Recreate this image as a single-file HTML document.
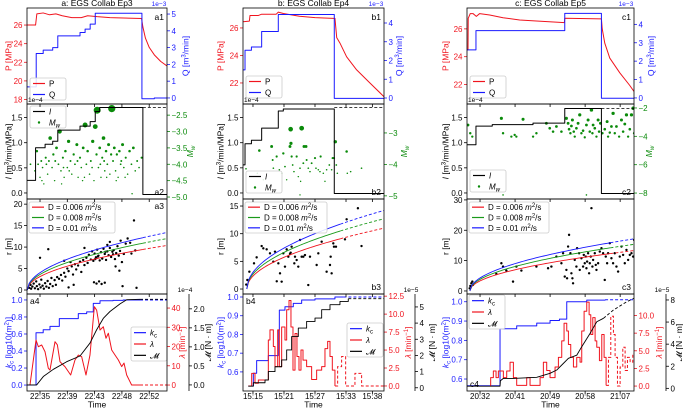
<!DOCTYPE html>
<html><head><meta charset="utf-8"><style>
html,body{margin:0;padding:0;background:#fff;}
svg{display:block;font-family:"Liberation Sans",sans-serif;}
</style></head><body>
<svg id="chart" width="683" height="408" viewBox="0 0 683 408" xmlns="http://www.w3.org/2000/svg"></svg>
<script>
// ===== Column a (minutes after 22:00) =====
const a_xTicks=[35,39.3,43.6,47.9,52.2];
const a_xLabels=['22:35','22:39','22:43','22:48','22:52'];
const a1_P=[[32.95,26],[34.3,26],[34.5,27.2],[35.5,27.3],[36.5,27.1],[37.5,27.2],[38.5,27.0],[40,26.8],[41.5,26.8],[42.5,27.0],[44,26.9],[46,26.8],[51,26.7],[51.2,25.8],[51.6,24.6],[52.2,23.6],[53,22.8],[54,22.1],[55,21.6]];
const a1_Q=[[32.95,0.66],[34.4,2.65],[35.5,2.85],[37.0,3.0],[37.8,3.7],[41.3,3.9],[42.1,4.1],[42.9,4.4],[43.7,5.05],[51.05,-0.05],[53,0.0],[55,0.0]];
const a2_I=[[32.95,0.25],[34.3,0.9],[35.8,0.97],[37.0,1.03],[37.8,1.25],[41.3,1.33],[42.9,1.42],[43.7,1.62],[44.4,1.7],[51.2,-0.03],[55,-0.02]];
const a2_Idash=[[51.2,1.7],[55,1.7]];
const a2_Mw=[[34.2,-4.2],[34.5,-3.6],[34.7,-4.0],[35.0,-4.4],[35.2,-3.9],[35.4,-4.1],[35.6,-4.6],[35.9,-3.8],[36.2,-4.3],[36.4,-3.9],[36.6,-3.2],[36.9,-4.1],[37.1,-3.7],[37.3,-4.5],[37.6,-3.5],[37.9,-4.0],[38.1,-3.0],[38.3,-4.2],[38.6,-3.8],[38.8,-4.4],[39.0,-3.6],[39.3,-4.1],[39.5,-3.3],[39.8,-3.9],[40.0,-4.3],[40.3,-3.7],[40.5,-4.0],[40.8,-3.4],[41.0,-4.4],[41.3,-3.8],[41.5,-4.1],[41.8,-3.5],[42.1,-2.8],[42.3,-4.0],[42.5,-3.6],[42.8,-4.3],[43.0,-3.9],[43.3,-3.3],[43.5,-4.5],[43.7,-2.85],[43.9,-3.7],[44.0,-2.35],[44.2,-4.1],[44.4,-3.5],[44.6,-4.4],[44.8,-3.8],[45.0,-3.2],[45.2,-4.2],[45.4,-3.6],[45.6,-4.0],[45.8,-3.4],[46.0,-4.3],[46.3,-2.3],[46.5,-3.9],[46.7,-3.5],[46.9,-4.2],[47.1,-3.7],[47.3,-4.4],[47.5,-3.6],[47.7,-4.0],[48.0,-3.4],[48.2,-4.1],[48.5,-3.8],[48.8,-4.3],[49.1,-3.6],[49.4,-4.0],[49.7,-3.5],[50.0,-4.2],[50.3,-3.9],[50.6,-4.1],[51.0,-3.8],[49.5,-4.9],[35.3,-4.5],[36.0,-4.0],[37.4,-3.9],[38.4,-4.6],[39.6,-4.2],[40.9,-3.9],[42.0,-4.4],[43.2,-4.1],[44.5,-4.0],[45.5,-4.4],[46.2,-3.7],[47.0,-4.5],[48.4,-4.4],[33.5,-4.0],[38.7,-4.1],[41.7,-4.5],[45.1,-3.9],[47.8,-3.9]];
const a3_r=[[33.3,0.5],[33.5,1.2],[33.6,0.3],[33.8,0.8],[34.0,1.5],[34.2,0.4],[34.4,2.0],[34.5,0.9],[34.7,0.2],[34.9,1.3],[35.1,0.6],[35.2,2.4],[35.4,1.0],[35.6,0.3],[35.8,1.6],[36.0,0.8],[36.2,2.1],[36.4,0.5],[36.6,1.4],[36.8,2.8],[37.0,0.9],[37.3,2.3],[37.5,1.2],[37.7,3.0],[38.0,2.6],[35.0,7.5],[36.3,9.5],[38.3,3.5],[38.5,2.2],[38.8,4.0],[39.0,3.1],[39.3,5.0],[39.5,4.4],[39.8,6.5],[40.0,5.5],[40.2,3.6],[40.5,6.0],[40.7,4.8],[41.0,5.7],[41.3,6.6],[41.5,4.2],[38.8,6.8],[39.5,0.6],[40.3,1.2],[41.8,7.0],[42.0,5.8],[42.3,7.5],[42.5,6.3],[42.7,8.2],[43.0,7.1],[43.2,9.0],[43.4,6.8],[43.6,8.5],[43.8,7.6],[44.0,9.4],[44.2,8.0],[44.4,6.9],[44.6,8.8],[44.8,7.3],[45.0,9.6],[45.2,8.4],[45.4,7.0],[45.6,9.0],[45.8,8.1],[46.0,9.8],[46.2,7.7],[46.4,8.9],[46.6,9.3],[46.8,7.2],[47.0,8.6],[47.2,10.2],[47.4,8.0],[47.6,9.1],[47.9,6.5],[48.2,8.4],[48.5,10.8],[43.5,1.8],[43.9,1.5],[44.3,2.0],[44.7,1.4],[45.2,1.7],[42.0,9.8],[45.6,10.5],[46.9,5.5],[47.5,4.5],[48.8,12.0],[49.2,11.0],[49.8,16.2],[50.2,0.5],[48.0,0.9],[49.4,8.5],[50.0,9.2],[47.7,11.5],[46.0,11.2],[44.1,7.8],[45.3,8.9],[46.5,8.3],[43.7,7.2]];
const a4_kc=[[32.95,0],[34.37,0.615],[35.5,0.65],[36.57,0.69],[38.04,0.78],[41.03,0.84],[42.35,0.86],[43.39,0.96],[44.45,0.99],[46.5,0.995],[48.1,1.0],[55,1.0]];
const a4_lam=[[33.42,0],[34.37,23.4],[34.74,19.9],[35.26,20.8],[35.79,17.3],[36.31,8.7],[36.57,7.8],[37.36,22.5],[37.73,20.9],[38.15,12.1],[38.94,9.5],[39.83,5.2],[40.51,13],[41.04,15.6],[41.56,14.7],[42.24,5.2],[42.87,15.6],[43.56,40.7],[43.92,38.9],[44.45,28.6],[44.97,30.3],[45.39,24.3],[45.76,26.9],[46.29,18.2],[46.81,15.6],[47.34,13.0],[47.86,9.6],[48.23,11.4],[48.65,5.2],[49.43,0],[55,0]];
const a4_M=[[32.95,0],[34.47,0],[35.52,0.22],[37.1,0.41],[39.2,0.61],[41.3,0.76],[42.87,1.1],[43.92,1.45],[44.97,1.75],[46.02,1.93],[47.6,2.13],[48.65,2.24],[50.75,2.25],[55,2.25]];
// ===== Column b (minutes after 15:00) =====
const b_xTicks=[15,21,27,33,38.1];
const b_xLabels=['15:15','15:21','15:27','15:33','15:38'];
const b1_P=[[13.07,26.45],[14.3,26.5],[14.42,26.9],[16.0,26.9],[16.68,27.0],[19.5,27.0],[19.9,27.15],[20.87,27.05],[24,26.85],[27,26.75],[30.54,26.7],[30.86,26.7],[31.2,25.3],[31.83,24.9],[33.12,23.9],[35.06,22.95],[37.63,22.0],[40.35,21.0]];
const b1_Q=[[13.07,1.5],[13.46,2.55],[14.7,2.72],[16.68,3.55],[19.9,4.45],[30.73,-0.02],[40.35,0.0]];
const b2_I=[[13.07,0.56],[13.46,0.98],[14.7,1.05],[16.68,1.29],[19.9,1.63],[20.87,1.67],[30.73,-0.01],[40.35,0.0]];
const b2_Idash=[[30.73,1.7],[40.35,1.7]];
const b2_Mw=[[13.65,-4.14],[15.84,-4.28],[16.23,-3.56],[17.0,-4.49],[18.61,-3.43],[18.81,-3.86],[18.94,-4.12],[19.58,-3.75],[20.1,-4.17],[20.55,-4.28],[20.87,-3.65],[21.19,-4.07],[21.52,-4.49],[22.16,-3.43],[22.29,-2.88],[22.35,-3.33],[22.48,-3.75],[22.68,-4.02],[22.93,-4.23],[23.45,-3.75],[23.77,-4.39],[24.1,-4.12],[24.22,-4.54],[24.42,-2.85],[24.74,-3.96],[24.87,-3.43],[25.26,-3.43],[25.38,-3.86],[25.7,-4.12],[26.03,-4.23],[26.35,-3.96],[27.0,-3.8],[27.19,-4.12],[27.64,-4.17],[27.96,-4.23],[28.09,-3.75],[28.61,-4.28],[28.93,-4.54],[29.25,-4.17],[29.77,-4.02],[30.22,-4.17],[30.41,-3.8],[30.67,-3.8],[30.93,-3.28],[31.12,-4.02],[31.32,-4.28],[33.12,-3.59],[33.25,-4.28],[33.9,-4.23],[36.0,-4.12],[24.1,-4.97]];
const b3_r=[[13.91,1.63],[14.3,3.13],[15.2,4.64],[15.71,5.72],[16.68,7.77],[17.0,7.35],[17.65,7.17],[18.29,6.45],[18.94,4.94],[19.26,6.75],[19.91,4.64],[20.23,2.83],[20.55,1.33],[20.87,6.45],[21.19,4.04],[21.52,7.17],[21.84,5.84],[22.16,6.33],[22.29,6.57],[22.48,7.65],[23.0,4.64],[23.13,5.84],[23.45,5.24],[23.77,4.04],[24.1,8.86],[24.42,5.84],[24.74,5.84],[25.06,6.14],[25.7,0.72],[26.03,5.84],[27.32,4.34],[27.64,6.45],[28.29,8.55],[29.25,3.13],[29.9,4.34],[30.03,5.84],[30.22,2.83],[30.54,8.25],[30.67,7.65],[31.06,7.65],[32.8,8.98],[33.12,12.6],[35.3,14.6],[36.0,7.77],[19.6,1.4],[13.7,0.8]];
const b4_kc=[[14.1,0.525],[15.07,0.593],[15.71,0.66],[17.97,0.687],[19.9,0.824],[20.1,0.93],[21.19,0.948],[22.8,0.966],[24.42,0.984],[27.0,0.99],[30.86,1.0],[40.35,1.0]];
const b4_lam=[[14.1,0],[14.75,1.76],[15.39,0.37],[16.04,0.83],[17.33,0.83],[17.97,6.4],[18.29,7.8],[18.94,5.5],[19.26,2.7],[19.78,7.8],[20.1,2.7],[20.55,8.2],[21.19,6.4],[21.52,10.6],[21.97,11.9],[22.35,8.2],[22.74,2.2],[23.13,7.3],[23.51,4.1],[23.9,2.2],[24.29,5.0],[24.68,3.6],[25.38,2.7],[26.35,0.9],[27.32,2.2],[28.29,2.7],[28.93,5.2],[29.45,6.2],[29.9,4.1],[30.35,2.2],[30.86,0],[31.38,2.7],[32.15,4.1],[32.93,0],[34.73,1.76],[36.02,0],[40.35,0]];
const b4_M=[[14.1,0.1],[15.07,0.31],[17.33,0.48],[17.97,1.0],[19.26,1.3],[20.55,1.72],[21.52,2.34],[22.48,3.17],[23.77,3.69],[25.38,4.1],[27.0,4.31],[28.29,4.83],[29.9,5.14],[31.83,5.34],[33.44,5.51],[40.35,5.51]];
// ===== Column c (minutes after 20:00) =====
const c_xTicks=[32,40.6,49.2,57.8,66.4];
const c_xLabels=['20:32','20:41','20:49','20:58','21:07'];
const c1_P=[[28.8,24.5],[29.05,24.5],[29.1,26.76],[29.6,27.1],[30.27,27.1],[31.09,26.9],[31.91,27.1],[34.37,27.0],[37.65,26.8],[41.74,26.64],[45.83,26.57],[52.7,26.45],[52.8,26.76],[61.8,26.72],[62.0,26.0],[62.62,24.98],[63.85,23.9],[66.31,22.84],[68.77,21.93],[69.8,21.5]];
const c1_Q=[[28.8,2.61],[31.0,3.66],[52.8,4.6],[61.8,-0.02],[69.8,0.0]];
const c2_I=[[28.8,0.96],[31.0,1.33],[35,1.36],[45,1.39],[52.8,1.68],[61.8,-0.01],[69.8,0.0]];
const c2_Idash=[[61.8,1.68],[69.8,1.68]];
const c2_Mw=[[29.05,-3.2],[29.6,-3.78],[30.1,-4.02],[37.24,-2.73],[37.65,-3.78],[39.69,-4.02],[40.5,-3.9],[40.92,-4.02],[42.56,-2.8],[45.02,-4.02],[45.84,-3.78],[48.29,-3.08],[49.11,-3.43],[49.93,-3.67],[50.75,-3.31],[51.98,-3.67],[53.2,-2.73],[53.62,-3.08],[53.86,-3.5],[54.19,-3.78],[54.43,-3.27],[54.68,-2.85],[55.01,-3.67],[55.25,-4.02],[55.66,-3.43],[56.07,-3.08],[56.48,-2.49],[56.89,-3.78],[57.3,-3.6],[57.71,-4.07],[58.12,-3.2],[58.53,-2.85],[58.94,-3.67],[59.35,-2.14],[59.59,-3.78],[59.76,-3.2],[60.17,-3.43],[60.58,-4.02],[60.99,-2.85],[61.23,-3.67],[61.56,-3.08],[62.05,-3.78],[62.62,-3.5],[63.2,-2.96],[63.44,-4.02],[63.85,-3.74],[64.26,-3.31],[64.67,-2.38],[65.08,-3.78],[65.49,-3.31],[66.15,-4.02],[66.72,-2.85],[67.13,-3.67],[67.54,-3.13],[67.95,-2.49],[68.36,-4.02],[68.77,-3.5],[69.18,-2.49],[69.59,-2.02],[69.83,-3.78],[37.65,-8.13],[58.12,-8.13]];
const c3_r=[[29.46,0.88],[29.62,1.65],[29.86,2.53],[30.11,3.08],[30.27,1.98],[36.0,5.6],[37.24,9.13],[37.65,8.03],[38.46,6.71],[40.1,3.08],[40.92,8.03],[42.15,6.71],[45.84,8.03],[48.7,7.48],[49.52,8.03],[50.75,11.33],[51.98,9.13],[52.39,12.43],[52.8,4.73],[53.2,6.93],[53.37,4.18],[53.62,14.63],[53.86,18.48],[54.19,12.43],[54.43,5.83],[54.68,4.18],[54.84,2.53],[55.25,10.23],[55.66,8.03],[55.83,14.08],[56.32,12.43],[56.48,6.93],[56.89,10.78],[57.3,8.03],[57.47,11.88],[57.71,9.13],[57.96,11.33],[58.12,7.48],[58.29,9.68],[58.53,12.43],[58.78,5.83],[58.94,9.13],[59.18,11.33],[59.35,27.28],[59.59,8.03],[59.76,10.23],[60.17,12.43],[60.41,8.58],[60.58,6.93],[60.99,9.13],[61.4,12.98],[61.81,14.08],[62.22,12.43],[62.62,3.63],[62.87,11.33],[63.2,9.13],[63.44,12.43],[63.85,15.73],[64.26,10.78],[64.67,9.13],[65.08,12.43],[65.49,8.03],[65.9,6.38],[66.31,11.33],[66.72,14.63],[67.13,11.88],[67.54,9.13],[67.95,13.53],[68.36,10.23],[68.77,11.88],[69.18,12.43],[69.59,11.33],[69.83,16.83]];
const c4_kc=[[28.8,0.565],[36.91,0.86],[41.0,0.875],[45.92,0.889],[49.19,0.903],[51.5,0.91],[53.29,1.0],[58.2,1.008],[62.7,1.01],[69.8,1.01]];
const c4_lam=[[34.45,0],[34.61,1.2],[35.27,2.13],[35.93,1.2],[36.5,2.13],[37.73,1.2],[38.55,2.13],[39.37,3.38],[40.19,1.2],[41.0,0.1],[43.46,1.2],[44.28,0.1],[46.74,1.2],[47.55,3.38],[48.37,2.2],[49.19,1.2],[50.42,2.7],[51.24,4.07],[52.06,6.4],[52.63,8.9],[53.29,7.8],[53.7,5.9],[54.27,4.07],[54.93,2.7],[55.74,4.07],[56.56,3.4],[56.97,7.8],[57.55,10.6],[58.2,11.9],[58.78,10.1],[59.19,7.3],[59.68,9.7],[60.25,6.4],[60.66,5.5],[61.31,3.6],[61.89,7.3],[62.46,4.07],[62.95,0.1],[63.53,4.07],[64.1,9.9],[64.75,7.3],[65.16,4.07],[65.74,0],[66.39,2.7],[67.05,5.5],[67.62,2.2],[68.19,4.07],[68.85,3.4],[69.5,4.6],[69.8,4.6]];
const c4_M=[[28.8,0.2],[36.91,0.2],[37.0,0.69],[37.73,0.9],[40.19,0.9],[45.92,1.0],[49.19,1.36],[50.83,1.66],[52.47,2.26],[53.7,2.72],[55.74,3.0],[56.97,3.77],[59.02,4.98],[60.66,6.03],[62.3,6.34],[64.75,7.09],[68.03,7.84],[69.8,8.15]];
// diffusion model
const diffusivities=[0.006,0.008,0.01];
const diffLabels=['D = 0.006','D = 0.008','D = 0.01'];

const NS='http://www.w3.org/2000/svg';
const svg=document.getElementById('chart');
const ROWS=[[8,104],[104,199],[199,294],[294,391]];
const FONT='"Liberation Sans",sans-serif';
function add(tag,attrs,name,parent){
  const el=document.createElementNS(NS,tag);
  for(const k in attrs) el.setAttribute(k,attrs[k]);
  
  
  (parent||svg).appendChild(el);
  return el;
}
function txt(x,y,s,o,name,parent){
  o=o||{};
  const el=add('text',{x:x,y:y,'font-size':o.size||8,fill:o.fill||'#000','text-anchor':o.anchor||'middle','font-family':FONT},name,parent);
  if(o.rot) el.setAttribute('transform','rotate(-90,'+x+','+y+')');
  if(o.italic) el.setAttribute('font-style','italic');
  el.innerHTML=s;
  return el;
}
function lin(d0,d1,r0,r1){return v=>r0+(v-d0)/(d1-d0)*(r1-r0);}
function pathD(pts,sx,sy,step){
  let d='';
  pts.forEach((p,i)=>{const x=sx(p[0]).toFixed(2),y=sy(p[1]).toFixed(2);
    if(i===0) d+='M'+x+','+y; else if(step) d+='H'+x+'V'+y; else d+='L'+x+','+y;});
  return d;
}
function valAt(pts,t,step){
  let prev=pts[0];
  for(const p of pts){ if(p[0]>t){ if(step) return prev[1]; return prev[1]+(p[1]-prev[1])*(t-prev[0])/(p[0]-prev[0]||1);} prev=p;}
  return prev[1];
}
function series(pts,sx,sy,color,step,split,name,clip,w){
  let solid=pts,dash=null;
  if(split!=null){
    const v=valAt(pts,split,step);
    solid=pts.filter(p=>p[0]<=split).concat([[split,v]]);
    dash=[[split,v]].concat(pts.filter(p=>p[0]>split));
  }
  const g=add('g',{'clip-path':'url(#'+clip+')'},name);
  add('path',{d:pathD(solid,sx,sy,step),fill:'none',stroke:color,'stroke-width':w||1,'stroke-linejoin':'round'},name+'-solid',g);
  if(dash&&dash.length>1) add('path',{d:pathD(dash,sx,sy,step),fill:'none',stroke:color,'stroke-width':w||1,'stroke-dasharray':'3,2'},name+'-dashed',g);
}
function dots(pts,sx,sy,color,rfn,name,clip){
  const g=add('g',{'clip-path':'url(#'+clip+')'},name);
  pts.forEach(p=>{add('circle',{cx:sx(p[0]).toFixed(2),cy:sy(p[1]).toFixed(2),r:rfn(p[1]).toFixed(2),fill:color},name+'-point',g);});
}
function yAxis(x,scale,ticks,labels,color,side,name){
  const g=add('g',{},name);
  const dir=side==='left'?-1:1;
  ticks.forEach((v,i)=>{const y=scale(v);
    add('line',{x1:x,y1:y,x2:x+dir*3,y2:y,stroke:color,'stroke-width':0.8},name+'-tick',g);
    txt(x+dir*4.5,y+3,labels[i],{fill:color,anchor:side==='left'?'end':'start',size:8},name+'-tick-label',g);});
}
function legend(x,y,w,h,entries,name){
  const g=add('g',{},name);
  add('rect',{x:x,y:y,width:w,height:h,rx:2,fill:'#fff','fill-opacity':0.85,stroke:'#ccc','stroke-width':0.8},name+'-box',g);
  const step=h/entries.length;
  entries.forEach((e,i)=>{const cy=y+step*(i+0.5);
    if(e.type==='dot') add('circle',{cx:x+9,cy:cy,r:1.2,fill:e.color},'legend-marker',g);
    else add('line',{x1:x+3,y1:cy,x2:x+15,y2:cy,stroke:e.color,'stroke-width':1.2},'legend-line',g);
    txt(x+19,cy+3,e.label,{anchor:'start',size:8},'legend-entry',g);});
}
const defs=add('defs',{},'defs');
add('rect',{x:0,y:0,width:683,height:408,fill:'#fff'},'background');

function column(key,L,R,xdom,cfg){
  const sx=lin(xdom[0],xdom[1],L,R);
  const midX=(L+R)/2;
  txt(midX,6,cfg.title,{size:8.5},key+'-title');
  for(let r=0;r<4;r++){
    const cp=add('clipPath',{id:'clip-'+key+r},'clip',defs);
    add('rect',{x:L,y:ROWS[r][0],width:R-L,height:ROWS[r][1]-ROWS[r][0]},'clip-rect',cp);
  }
  const Y=(r,d)=>lin(d[0],d[1],ROWS[r][1],ROWS[r][0]);
  // Row 1
  const yP=Y(0,cfg.Pdom), yQ=Y(0,cfg.Qdom);
  series(cfg.P,sx,yP,'#f0141e',false,null,key+'1-pressure-line','clip-'+key+'0',1);
  series(cfg.Q,sx,yQ,'#1a1aff',true,null,key+'1-flow-line','clip-'+key+'0',1);
  yAxis(L,yP,cfg.Pticks,cfg.Pticks.map(String),'#f0141e','left',key+'1-p-axis');
  yAxis(R,yQ,cfg.Qticks,cfg.Qticks.map(String),'#1a1aff','right',key+'1-q-axis');
  txt(cfg.lblL,(ROWS[0][0]+ROWS[0][1])/2,'P [MPa]',{rot:1,fill:'#f0141e',size:8.5},key+'1-p-axis-title');
  txt(cfg.lblQ,(ROWS[0][0]+ROWS[0][1])/2,'Q [m<tspan dy="-3" font-size="6">3</tspan><tspan dy="3">/min]</tspan>',{rot:1,fill:'#1a1aff',size:8.5},key+'1-q-axis-title');
  txt(R-8,6,'1e−3',{fill:'#1a1aff',size:6.5},key+'1-q-offset');
  txt(R-3,cfg.p1y,key+'1',{anchor:'end',size:8.5},key+'1-panel-label');
  legend(L+3,cfg.leg1y,36,22,[{color:'#f0141e',label:'P'},{color:'#1a1aff',label:'Q'}],key+'1-legend');
  // Row 2
  const yI=Y(1,[-0.12,1.77]), yM=Y(1,cfg.Mwdom);
  dots(cfg.Mw,sx,yM,'#0a8a0a',cfg.rfn,key+'2-magnitude-points','clip-'+key+'1');
  series(cfg.I,sx,yI,'#000',true,null,key+'2-injectivity-line','clip-'+key+'1',1);
  series(cfg.Idash,sx,yI,'#000',false,cfg.Idash[0][0],key+'2-injectivity-max','clip-'+key+'1',0.8);
  yAxis(L,yI,[0,0.5,1,1.5],['0.0','0.5','1.0','1.5'],'#000','left',key+'2-i-axis');
  yAxis(R,yM,cfg.Mwticks,cfg.Mwticks.map(v=>(v<0?'−':'')+Math.abs(v).toFixed(cfg.MwDec)),'#0a8a0a','right',key+'2-mw-axis');
  txt(cfg.lblL,151.5,'<tspan font-style="italic">I</tspan> [m<tspan dy="-3" font-size="6">3</tspan><tspan dy="3">/min/MPa]</tspan>',{rot:1,size:8.5},key+'2-i-axis-title');
  txt(cfg.lblMw,151.5,'<tspan font-style="italic">M</tspan><tspan font-size="6" dy="2" font-style="italic">w</tspan>',{rot:1,fill:'#0a8a0a',size:8.5},key+'2-mw-axis-title');
  txt(L+1,102,'1e−4',{anchor:'start',size:6.5},key+'2-offset');
  txt(R-3,195,key+'2',{anchor:'end',size:8.5},key+'2-panel-label');
  legend(L+3,cfg.leg2y,36,22,[{color:'#000',label:'<tspan font-style="italic">I</tspan>'},{type:'dot',color:'#0a8a0a',label:'<tspan font-style="italic">M</tspan><tspan font-size="6" dy="2" font-style="italic">w</tspan>'}],key+'2-legend');
  // Row 3
  const yR=Y(2,cfg.rdom);
  dots(cfg.r,sx,yR,'#000',()=>1.2,key+'3-event-distance-points','clip-'+key+'2');
  const curveColors=['#f0141e','#1a9a1a','#1a1aff'];
  diffusivities.forEach((D,i)=>{
    const pts=[];
    for(let t=cfg.t0;t<=xdom[1]+0.01;t+=(xdom[1]-cfg.t0)/80) pts.push([t,Math.sqrt(cfg.K*D*(t-cfg.t0)*60)]);
    series(pts,sx,yR,curveColors[i],false,cfg.rsplit,key+'3-diffusion-curve-'+i,'clip-'+key+'2',0.9);
  });
  yAxis(L,yR,cfg.rticks,cfg.rticks.map(String),'#000','left',key+'3-r-axis');
  txt(cfg.lblL,246.5,'r [m]',{rot:1,size:8.5},key+'3-r-axis-title');
  txt(R-3,cfg.p3y,key+'3',{anchor:'end',size:8.5},key+'3-panel-label');
  legend(L+2,202,cfg.leg3w,31,diffLabels.map((l,i)=>({color:curveColors[i],label:l+' <tspan font-style="italic">m</tspan><tspan dy="-3" font-size="6">2</tspan><tspan dy="3">/s</tspan>'})),key+'3-legend');
  // Row 4
  const yK=Y(3,cfg.kdom), yL=Y(3,cfg.ldom), yMo=Y(3,cfg.Mdom);
  series(cfg.kc,sx,yK,'#1a1aff',true,cfg.ksplit,key+'4-kc-line','clip-'+key+'3',1);
  series(cfg.lam,sx,yL,'#f0141e',cfg.lstep,cfg.lsplit,key+'4-lambda-line','clip-'+key+'3',1);
  series(cfg.M,sx,yMo,'#000',cfg.mstep,cfg.msplit,key+'4-moment-line','clip-'+key+'3',0.9);
  yAxis(L,yK,cfg.kticks,cfg.kticks.map(v=>v.toFixed(1)),'#1a1aff','left',key+'4-kc-axis');
  yAxis(R,yL,cfg.lticks,cfg.lticks.map(v=>cfg.ldec?v.toFixed(1):String(v)),'#f0141e','right',key+'4-lambda-axis');
  add('line',{x1:cfg.mOff,y1:ROWS[3][0],x2:cfg.mOff,y2:ROWS[3][1],stroke:'#000','stroke-width':0.8},key+'4-moment-spine');
  yAxis(cfg.mOff,yMo,cfg.mticks,cfg.mticks.map(v=>cfg.mdec?v.toFixed(1):String(v)),'#000','right',key+'4-moment-axis');
  txt(cfg.lblL,342.5,'<tspan font-style="italic">k</tspan><tspan font-size="6" dy="2">c</tspan><tspan dy="-2"> [log10(m</tspan><tspan dy="-3" font-size="6">2</tspan><tspan dy="3">)]</tspan>',{rot:1,fill:'#1a1aff',size:8.5},key+'4-kc-axis-title');
  txt(cfg.lblLam,342.5,'<tspan font-style="italic">λ</tspan> [min<tspan dy="-3" font-size="6">−1</tspan><tspan dy="3">]</tspan>',{rot:1,fill:'#f0141e',size:8.5},key+'4-lambda-axis-title');
  txt(cfg.lblM,342.5,'𝓜 [N · m]',{rot:1,size:8.5},key+'4-moment-axis-title');
  txt(cfg.mOff-4,292,cfg.moff,{size:6.5},key+'4-moment-offset');
  txt(cfg.p4x,cfg.p4y,key+'4',{anchor:'start',size:8.5},key+'4-panel-label');
  legend(cfg.leg4x,cfg.leg4y,36,34,[{color:'#1a1aff',label:'<tspan font-style="italic">k</tspan><tspan font-size="6" dy="2">c</tspan>'},{color:'#f0141e',label:'<tspan font-style="italic">λ</tspan>'},{color:'#000',label:'𝓜'}],key+'4-legend');
  // frames and x ticks
  for(let r=0;r<4;r++){
    add('rect',{x:L,y:ROWS[r][0],width:R-L,height:ROWS[r][1]-ROWS[r][0],fill:'none',stroke:'#000','stroke-width':0.8},key+(r+1)+'-frame');
    cfg.xt.forEach(v=>{add('line',{x1:sx(v),y1:ROWS[r][1],x2:sx(v),y2:ROWS[r][1]+3,stroke:'#000','stroke-width':0.8},key+(r+1)+'-x-tick');});
  }
  cfg.xt.forEach((v,i)=>{txt(sx(v),399,cfg.xl[i],{size:8},key+'-x-tick-label');});
  txt(midX,407.5,'Time',{size:8.5},key+'-x-axis-title');
}

column('a',27,167,[32.95,55.0],{title:'a: EGS Collab Ep3',xt:a_xTicks,xl:a_xLabels,
  P:a1_P,Q:a1_Q,Pdom:[17.52,27.83],Qdom:[-0.36,5.36],Pticks:[18,20,22,24,26],Qticks:[0,1,2,3,4,5],lblL:11.5,lblQ:188.5,p1y:20,leg1y:78,
  I:a2_I,Idash:a2_Idash,Mw:a2_Mw,Mwdom:[-5.06,-2.16],Mwticks:[-5,-4.5,-4,-3.5,-3,-2.5],MwDec:1,lblMw:193,leg2y:106,
  rfn:m=>0.7+0.55*Math.pow(Math.max(0,m+4.6),2),
  r:a3_r,rdom:[-0.93,21.2],rticks:[0,5,10,15,20],t0:33.0,K:13.6,rsplit:51.2,p3y:209,leg3w:86,
  kc:a4_kc,lam:a4_lam,M:a4_M,kdom:[-0.07,1.07],ldom:[-3.1,47.3],Mdom:[-0.16,2.39],kticks:[0,0.2,0.4,0.6,0.8,1.0],lticks:[0,10,20,30,40],ldec:0,mticks:[0,0.5,1,1.5,2],mdec:1,
  ksplit:50.75,lsplit:50.75,msplit:50.75,lstep:false,mstep:false,mOff:189,lblLam:185,lblM:211,moff:'1e−4',p4x:30,p4y:304,leg4x:131,leg4y:327});
column('b',243,384,[13.07,40.35],{title:'b: EGS Collab Ep4',xt:b_xTicks,xl:b_xLabels,
  P:b1_P,Q:b1_Q,Pdom:[20.47,27.45],Qdom:[-0.32,4.8],Pticks:[22,24,26],Qticks:[0,1,2,3,4],lblL:223.5,lblQ:402,p1y:20,leg1y:76,
  I:b2_I,Idash:b2_Idash,Mw:b2_Mw,Mwdom:[-5.1,-2.08],Mwticks:[-5,-4,-3],MwDec:0,lblMw:407,leg2y:171,
  rfn:m=>0.7+0.55*Math.pow(Math.max(0,m+4.6),2),
  r:b3_r,rdom:[-0.9,16.27],rticks:[0,5,10,15],t0:13.8,K:12.66,rsplit:31.9,p3y:290,leg3w:82,
  kc:b4_kc,lam:b4_lam,M:b4_M,kdom:[0.498,1.016],ldom:[-0.7,12.8],Mdom:[-0.2,5.8],kticks:[0.6,0.7,0.8,0.9,1.0],lticks:[0,2.5,5,7.5,10,12.5],ldec:1,mticks:[0,1,2,3,4,5],mdec:0,
  ksplit:32.5,lsplit:30.86,msplit:33.44,lstep:true,mstep:true,mOff:415,lblLam:411,lblM:435,moff:'1e−5',p4x:246,p4y:304,leg4x:347,leg4y:323});
column('c',467,634,[28.8,69.8],{title:'c: EGS Collab Ep5',xt:c_xTicks,xl:c_xLabels,
  P:c1_P,Q:c1_Q,Pdom:[20.6,27.5],Qdom:[-0.33,4.89],Pticks:[22,24,26],Qticks:[0,1,2,3,4],lblL:448.5,lblQ:654,p1y:20,leg1y:76,
  I:c2_I,Idash:c2_Idash,Mw:c2_Mw,Mwdom:[-8.42,-1.72],Mwticks:[-8,-6,-4,-2],MwDec:0,lblMw:652,leg2y:170,
  rfn:m=>Math.max(0.8,1.1+0.3*(m+4.2)),
  r:c3_r,rdom:[-1,30.3],rticks:[0,10,20,30],t0:29.5,K:12.2,rsplit:64,p3y:290,leg3w:80,
  kc:c4_kc,lam:c4_lam,M:c4_M,kdom:[0.538,1.04],ldom:[-0.7,13.05],Mdom:[-0.24,8.54],kticks:[0.6,0.7,0.8,0.9,1.0],lticks:[0,2.5,5,7.5,10],ldec:1,mticks:[0,2,4,6,8],mdec:0,
  ksplit:62.7,lsplit:62.95,msplit:62.3,lstep:true,mstep:false,mOff:666,lblLam:662,lblM:682,moff:'1e−5',p4x:470,p4y:387,leg4x:469,leg4y:295});
</script>
</body></html>
